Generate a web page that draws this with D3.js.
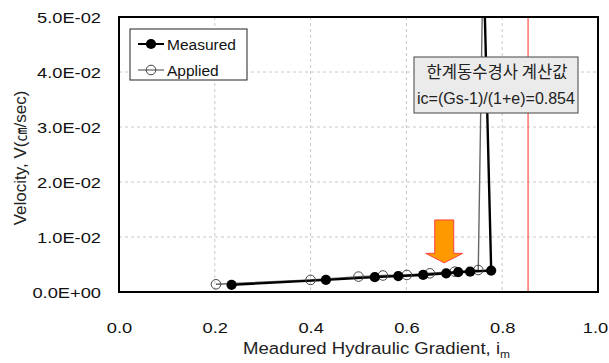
<!DOCTYPE html>
<html>
<head>
<meta charset="utf-8">
<script src="https://cdn.jsdelivr.net/npm/d3@7"></script>
<style>
  html, body { margin: 0; padding: 0; background: #fff; }
  svg { display: block; font-family: "Liberation Sans", Arial, sans-serif; }
</style>
</head>
<body>
<svg id="chart" width="609" height="363"></svg>
<script>
// Hydraulic gradient (i_m) vs seepage velocity (cm/sec)
const measuredGradient = [0.235, 0.432, 0.534, 0.583, 0.635, 0.683, 0.708, 0.733, 0.777, 0.761];
const measuredVelocity = [0.0013, 0.0022, 0.0027, 0.0029, 0.0031, 0.0034, 0.0036, 0.0037, 0.0039, 0.060];
const appliedGradient = [0.2025, 0.400, 0.500, 0.551, 0.601, 0.649, 0.701, 0.750, 0.760];
const appliedVelocity = [0.0014, 0.0022, 0.0028, 0.0030, 0.0031, 0.0034, 0.0037, 0.0040, 0.060];
const xTicks = [0.0, 0.2, 0.4, 0.6, 0.8, 1.0];
const yTicks = [0, 0.01, 0.02, 0.03, 0.04, 0.05];
const criticalGradient = 0.854;
const arrowAt = { x: 0.679, yTop: 0.0131, yTip: 0.0053 };

const svg = d3.select("#chart");
const m = { left: 119, right: 598, top: 17, bottom: 292 };
const axisFont = 15.5, axisStretch = 1.18;   // axis lettering is drawn slightly widened

const x = d3.scaleLinear().domain([0, 1]).range([m.left, m.right]);
const y = d3.scaleLinear().domain([0, 0.05]).range([m.bottom, m.top]);

svg.append("defs").append("clipPath").attr("id", "plotClip")
  .append("rect").attr("x", m.left).attr("y", m.top)
  .attr("width", m.right - m.left).attr("height", m.bottom - m.top);

// grid
const grid = svg.append("g");
grid.selectAll("line.v").data(xTicks.filter(d => d > 0 && d < 1)).join("line")
  .attr("x1", d => x(d)).attr("x2", d => x(d))
  .attr("y1", m.top).attr("y2", m.bottom)
  .attr("stroke", "#c8c8c8").attr("stroke-dasharray", "3,3");
grid.selectAll("line.h").data(yTicks.filter(d => d > 0 && d < 0.05)).join("line")
  .attr("y1", d => y(d)).attr("y2", d => y(d))
  .attr("x1", m.left).attr("x2", m.right)
  .attr("stroke", "#c8c8c8").attr("stroke-dasharray", "3,3");

// critical gradient line
svg.append("line")
  .attr("x1", x(criticalGradient)).attr("x2", x(criticalGradient))
  .attr("y1", m.top).attr("y2", m.bottom)
  .attr("stroke", "#ff4d4d").attr("stroke-width", 1.2);

// axes
const xAxis = d3.axisBottom(x).tickValues(xTicks).tickSize(0).tickFormat(d3.format(".1f"));
const gx = svg.append("g").attr("transform", `translate(0,${m.bottom})`).call(xAxis);
gx.select(".domain").remove();
gx.selectAll("text").attr("dy", 0).attr("y", 0)
  .attr("transform", d => `translate(${d === 1 ? -3 : 0},41) scale(${axisStretch},1)`)
  .attr("font-size", axisFont).attr("fill", "#111")
  .attr("font-family", "'Liberation Sans', Arial, sans-serif");

const yFmt = d => d === 0 ? "0.0E+00" : d3.format(".1e")(d).replace("e-", "E-0");
const yAxis = d3.axisLeft(y).tickValues(yTicks).tickSize(0).tickFormat(yFmt);
const gy = svg.append("g").attr("transform", `translate(${m.left},0)`).call(yAxis);
gy.select(".domain").remove();
gy.selectAll("text").attr("x", 0).attr("dy", "0.35em")
  .attr("transform", `translate(-18,0) scale(${axisStretch},1)`)
  .attr("font-size", axisFont).attr("fill", "#111")
  .attr("font-family", "'Liberation Sans', Arial, sans-serif");

// axis titles
const xt = svg.append("text")
  .attr("transform", `translate(243,354) scale(1.14,1)`)
  .attr("text-anchor", "start").attr("font-size", 16.3).attr("fill", "#222");
xt.append("tspan").text("Meadured Hydraulic Gradient, i");
xt.append("tspan").text("m").attr("font-size", 10.5).attr("dy", 4);

const yt = svg.append("text")
  .attr("transform", "translate(26,158) rotate(-90)")
  .attr("text-anchor", "middle").attr("font-size", 17).attr("fill", "#222");
yt.append("tspan").text("Velocity, V(");
yt.append("tspan").text("㎝").attr("font-family", "'Noto Sans CJK KR', sans-serif").attr("font-size", 14);
yt.append("tspan").text("/sec)");

// series
const plot = svg.append("g").attr("clip-path", "url(#plotClip)");
const applied = appliedGradient.map((g, i) => [g, appliedVelocity[i]]);
const measured = measuredGradient.map((g, i) => [g, measuredVelocity[i]]);
const line = d3.line().x(d => x(d[0])).y(d => y(d[1]));

plot.append("path").datum(applied).attr("d", line)
  .attr("fill", "none").attr("stroke", "#666").attr("stroke-width", 1.4);
plot.append("path").datum(measured).attr("d", line)
  .attr("fill", "none").attr("stroke", "#000").attr("stroke-width", 2.4);

plot.selectAll("circle.applied").data(applied.filter(d => d[1] <= 0.05)).join("circle")
  .attr("cx", d => x(d[0])).attr("cy", d => y(d[1])).attr("r", 4.8)
  .attr("fill", "none").attr("stroke", "#444").attr("stroke-width", 1);
plot.selectAll("circle.measured").data(measured.filter(d => d[1] <= 0.05)).join("circle")
  .attr("cx", d => x(d[0])).attr("cy", d => y(d[1])).attr("r", 5.1)
  .attr("fill", "#000");

// orange arrow
const ax = x(arrowAt.x), aTop = y(arrowAt.yTop), aTip = y(arrowAt.yTip);
const sw = 9.5, hw = 18.5, headH = 9.5;
const arrowPts = [
  [ax - sw, aTop], [ax + sw, aTop], [ax + sw, aTip - headH], [ax + hw, aTip - headH],
  [ax, aTip], [ax - hw, aTip - headH], [ax - sw, aTip - headH]
];
svg.append("polygon").attr("points", arrowPts.map(p => p.join(",")).join(" "))
  .attr("fill", "#ff9900").attr("stroke", "#ff4040").attr("stroke-width", 1);

// plot frame
svg.append("rect").attr("x", m.left).attr("y", m.top)
  .attr("width", m.right - m.left).attr("height", m.bottom - m.top)
  .attr("fill", "none").attr("stroke", "#000").attr("stroke-width", 2);

// legend
const lg = svg.append("g");
lg.append("rect").attr("x", 130).attr("y", 29).attr("width", 117).attr("height", 51)
  .attr("fill", "#fff").attr("stroke", "#222").attr("stroke-width", 1);
const legendItems = [
  { label: "Measured", y: 44, filled: true },
  { label: "Applied", y: 70, filled: false }
];
legendItems.forEach(it => {
  lg.append("line").attr("x1", 138).attr("x2", 164).attr("y1", it.y).attr("y2", it.y)
    .attr("stroke", it.filled ? "#000" : "#444").attr("stroke-width", it.filled ? 2 : 1);
  lg.append("circle").attr("cx", 151).attr("cy", it.y).attr("r", it.filled ? 5.1 : 4.8)
    .attr("fill", it.filled ? "#000" : "none").attr("stroke", it.filled ? "none" : "#444");
  lg.append("text").attr("x", 167).attr("y", it.y + 6)
    .attr("font-size", 15.5).attr("fill", "#111").text(it.label);
});

// note box with critical gradient value
const nb = svg.append("g");
nb.append("rect").attr("x", 414).attr("y", 57).attr("width", 164).attr("height", 56)
  .attr("fill", "#ebebeb").attr("stroke", "#444").attr("stroke-width", 1);
nb.append("text").attr("x", 497).attr("y", 72).attr("dy", "0.35em")
  .attr("text-anchor", "middle").attr("font-size", 16.6).attr("fill", "#222")
  .attr("font-family", "'Noto Sans CJK KR', sans-serif").text("한계동수경사 계산값");
nb.append("text").attr("x", 496).attr("y", 104.3)
  .attr("text-anchor", "middle").attr("font-size", 16).attr("fill", "#222")
  .text("ic=(Gs-1)/(1+e)=" + criticalGradient.toFixed(3));
</script>
</body>
</html>
